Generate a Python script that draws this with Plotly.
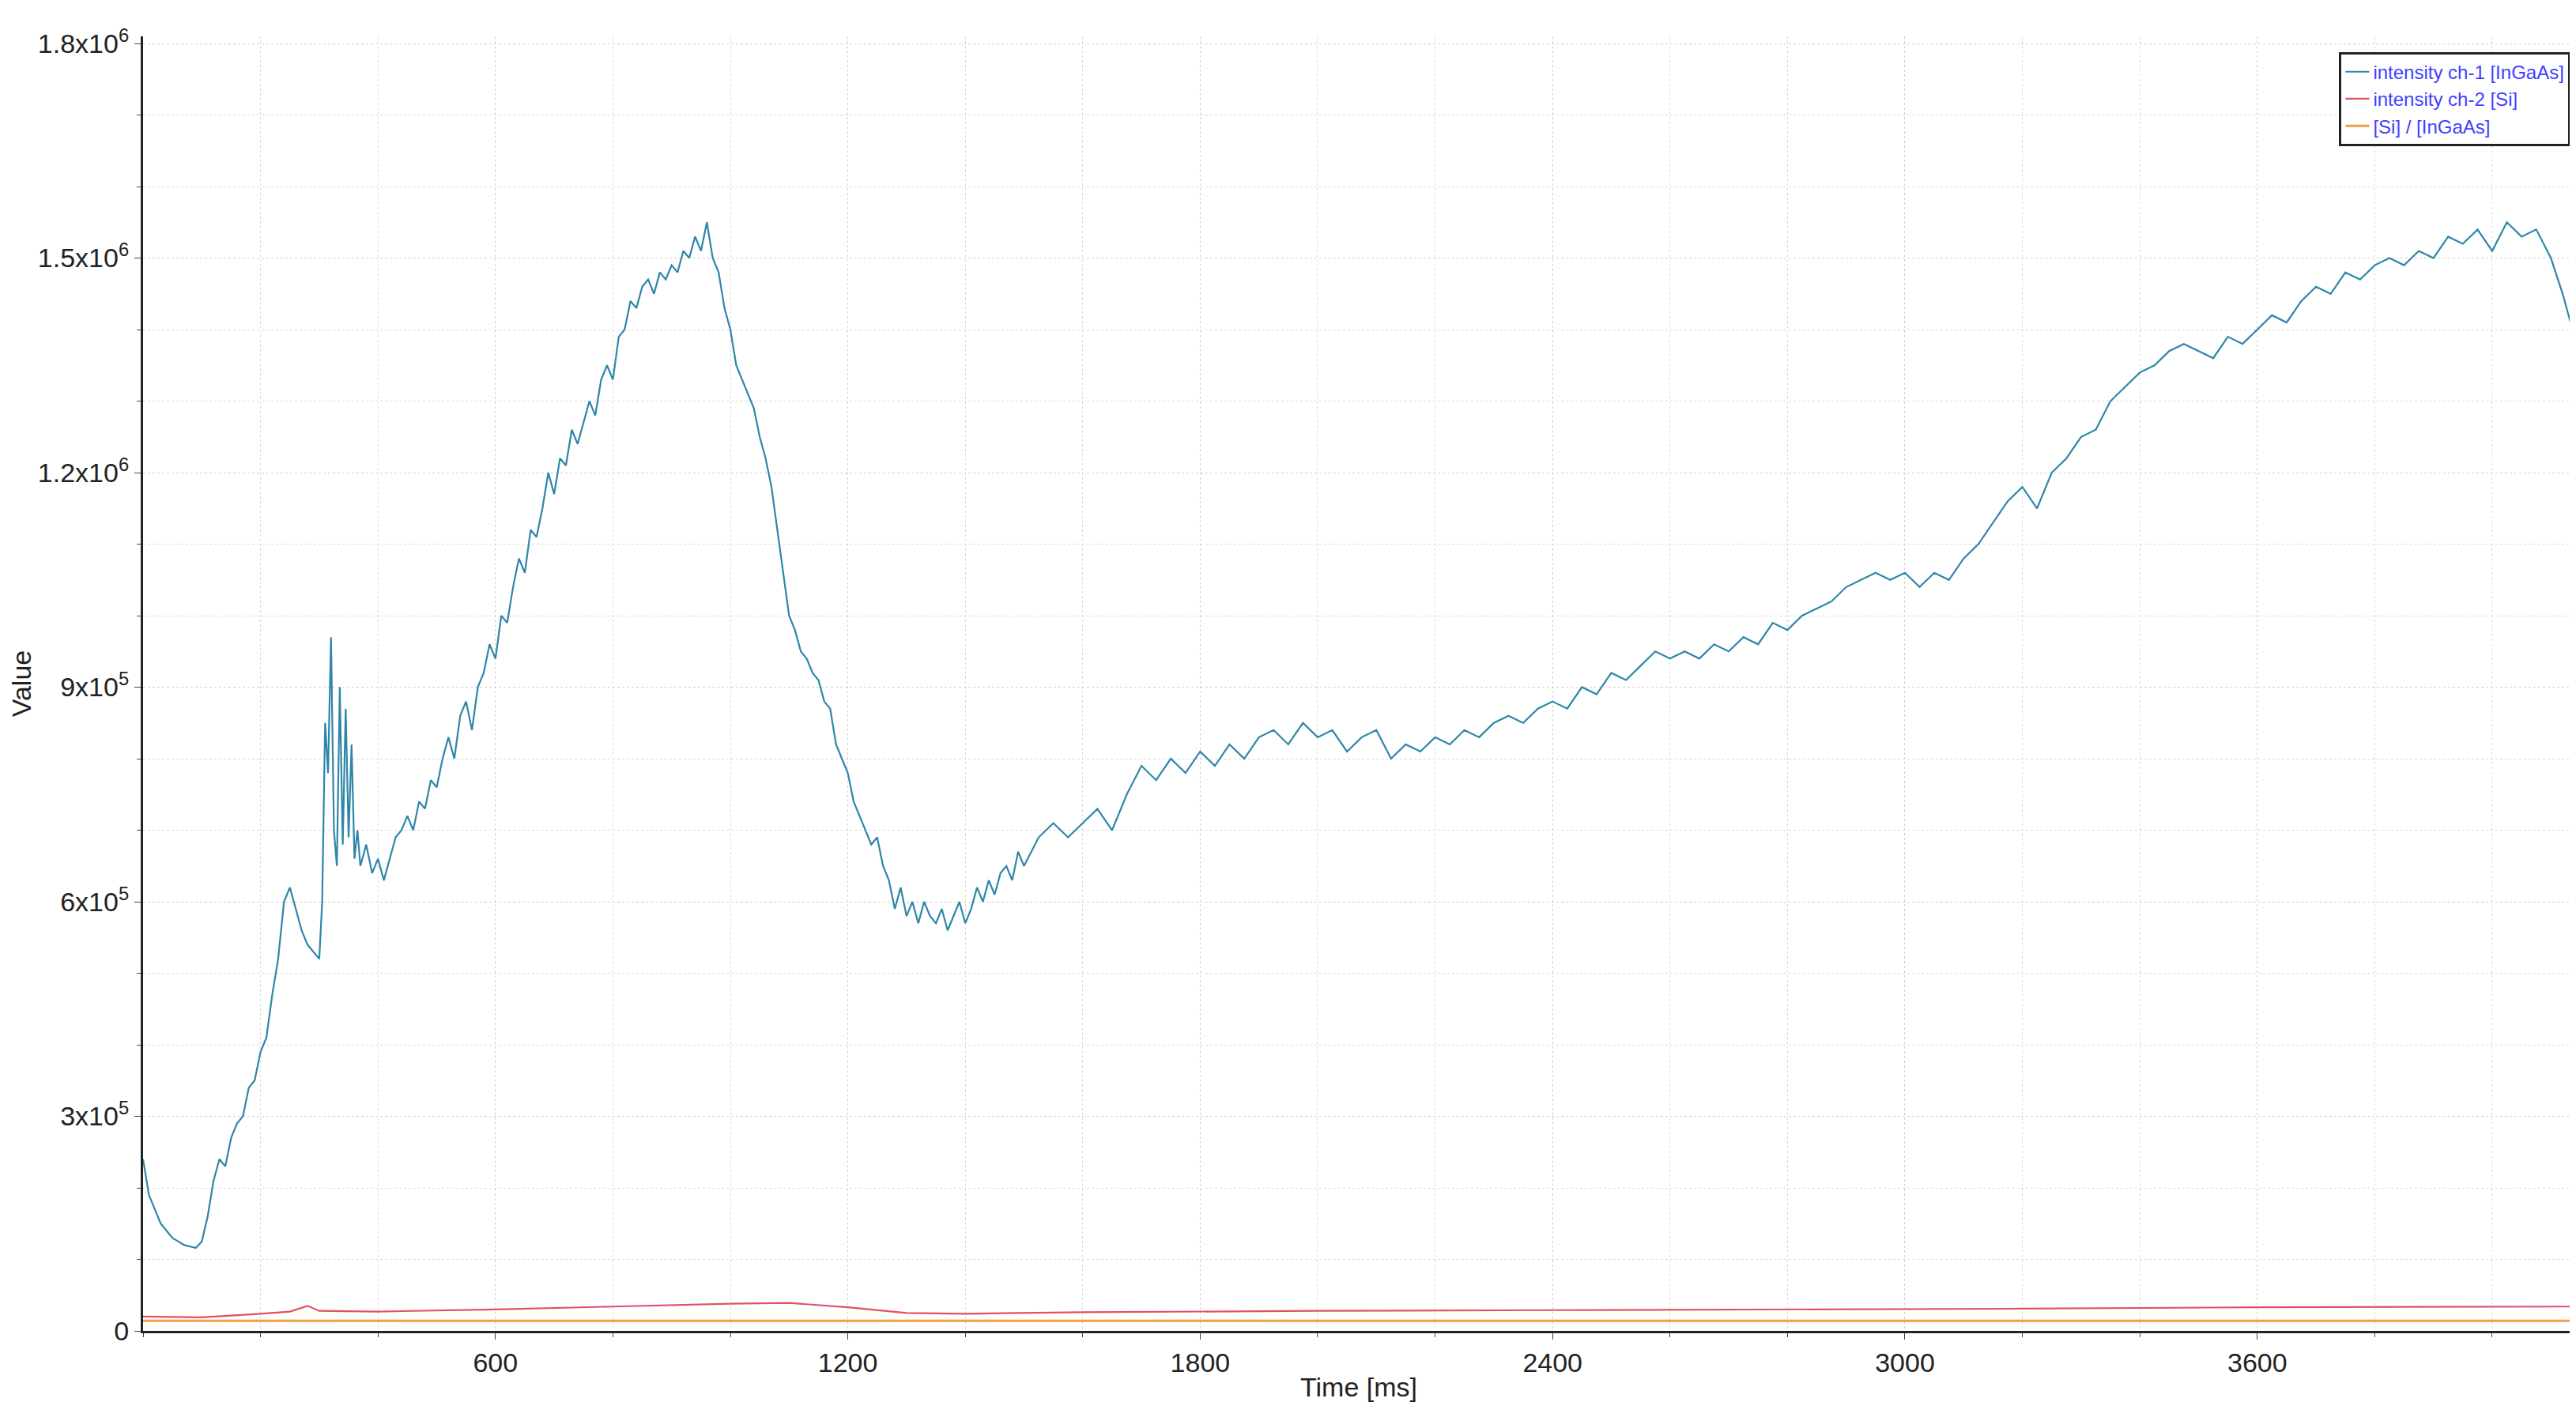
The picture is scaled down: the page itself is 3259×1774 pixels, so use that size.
import plotly.graph_objects as go

# (time ms, intensity) readings for ch-1 up to 1500 ms
early_ch1 = [
 (0,240000),(10,190000),(20,170000),(30,150000),(40,140000),(50,130000),(60,125000),(70,120000),(80,118000),(90,116000),
 (100,125000),(110,160000),(120,210000),(130,240000),(140,230000),(150,270000),(160,290000),(170,300000),(180,340000),(190,350000),
 (200,390000),(210,410000),(220,470000),(230,520000),(240,600000),(250,620000),(260,590000),(270,560000),(280,540000),(290,530000),
 (300,520000),(305,600000),(310,850000),(315,780000),(320,970000),(325,700000),(330,650000),(335,900000),(340,680000),(345,870000),
 (350,690000),(355,820000),(360,660000),(365,700000),(370,650000),(380,680000),(390,640000),(400,660000),(410,630000),(420,660000),
 (430,690000),(440,700000),(450,720000),(460,700000),(470,740000),(480,730000),(490,770000),(500,760000),(510,800000),(520,830000),
 (530,800000),(540,860000),(550,880000),(560,840000),(570,900000),(580,920000),(590,960000),(600,940000),(610,1000000),(620,990000),
 (630,1040000),(640,1080000),(650,1060000),(660,1120000),(670,1110000),(680,1150000),(690,1200000),(700,1170000),(710,1220000),(720,1210000),
 (730,1260000),(740,1240000),(750,1270000),(760,1300000),(770,1280000),(780,1330000),(790,1350000),(800,1330000),(810,1390000),(820,1400000),
 (830,1440000),(840,1430000),(850,1460000),(860,1470000),(870,1450000),(880,1480000),(890,1470000),(900,1490000),(910,1480000),(920,1510000),
 (930,1500000),(940,1530000),(950,1510000),(960,1550000),(970,1500000),(980,1480000),(990,1430000),(1000,1400000),(1010,1350000),(1020,1330000),
 (1030,1310000),(1040,1290000),(1050,1250000),(1060,1220000),(1070,1180000),(1080,1120000),(1090,1060000),(1100,1000000),(1110,980000),(1120,950000),
 (1130,940000),(1140,920000),(1150,910000),(1160,880000),(1170,870000),(1180,820000),(1190,800000),(1200,780000),(1210,740000),(1220,720000),
 (1230,700000),(1240,680000),(1250,690000),(1260,650000),(1270,630000),(1280,590000),(1290,620000),(1300,580000),(1310,600000),(1320,570000),
 (1330,600000),(1340,580000),(1350,570000),(1360,590000),(1370,560000),(1380,580000),(1390,600000),(1400,570000),(1410,590000),(1420,620000),
 (1430,600000),(1440,630000),(1450,610000),(1460,640000),(1470,650000),(1480,630000),(1490,670000),(1500,650000),
]
# ch-1 readings every 25 ms from 1525 to 4100 ms, then the last two samples
late_times = list(range(1525, 4101, 25)) + [4120, 4140]
late_values = [
 690000,710000,690000,710000, 730000,700000,750000,790000, 770000,800000,780000,810000,
 790000,820000,800000,830000, 840000,820000,850000,830000, 840000,810000,830000,840000,
 800000,820000,810000,830000, 820000,840000,830000,850000, 860000,850000,870000,880000,
 870000,900000,890000,920000, 910000,930000,950000,940000, 950000,940000,960000,950000,
 970000,960000,990000,980000, 1000000,1010000,1020000,1040000, 1050000,1060000,1050000,1060000,
 1040000,1060000,1050000,1080000, 1100000,1130000,1160000,1180000, 1150000,1200000,1220000,1250000,
 1260000,1300000,1320000,1340000, 1350000,1370000,1380000,1370000, 1360000,1390000,1380000,1400000,
 1420000,1410000,1440000,1460000, 1450000,1480000,1470000,1490000, 1500000,1490000,1510000,1500000,
 1530000,1520000,1540000,1510000, 1550000,1530000,1540000,1500000, 1450000,1390000,
]
time_ch1 = [t for t, _ in early_ch1] + late_times
intensity_ch1 = [v for _, v in early_ch1] + late_values

time_ch2 = [0,100,200,250,280,300,400,600,800,1000,1100,1200,1300,1400,1600,2000,2400,2800,3200,3600,4000,4140]
intensity_ch2 = [20000,19000,24000,27000,35000,28000,27000,30000,34000,38000,39000,33000,25000,24000,26000,28000,29000,30000,31000,33000,34000,34000]

time_ratio = [0,4140]
ratio = [14000,14000]

fig = go.Figure()
fig.add_trace(go.Scatter(x=time_ch1, y=intensity_ch1, mode="lines", name="intensity ch-1 [InGaAs]",
                         line=dict(color="#2e86a8", width=2.2)))
fig.add_trace(go.Scatter(x=time_ch2, y=intensity_ch2, mode="lines", name="intensity ch-2 [Si]",
                         line=dict(color="#e0506a", width=2.2)))
fig.add_trace(go.Scatter(x=time_ratio, y=ratio, mode="lines", name="[Si] / [InGaAs]",
                         line=dict(color="#f0a040", width=3)))

yt = [0, 300000, 600000, 900000, 1200000, 1500000, 1800000]
ytxt = ["0", "3x10<sup>5</sup>", "6x10<sup>5</sup>", "9x10<sup>5</sup>",
        "1.2x10<sup>6</sup>", "1.5x10<sup>6</sup>", "1.8x10<sup>6</sup>"]

fig.update_layout(
    width=3259, height=1774, plot_bgcolor="white", paper_bgcolor="white",
    margin=dict(l=167, r=10, t=38, b=98),
    font=dict(family="Liberation Sans, Arial, sans-serif", size=34, color="#222"),
    showlegend=True,
    legend=dict(x=0.9985, y=0.988, xanchor="right", yanchor="top", bordercolor="#222", borderwidth=3,
                bgcolor="white", font=dict(size=24, color="#4040ff"), tracegroupgap=0),
)
fig.update_xaxes(range=[0, 4140], tickvals=[600, 1200, 1800, 2400, 3000, 3600],
                 showline=True, linecolor="#222", linewidth=3, ticks="outside", ticklen=8,
                 showgrid=True, gridcolor="#d0d0d0", griddash="dot", zeroline=False,
                 minor=dict(dtick=200, showgrid=True, gridcolor="#d8d8d8", griddash="dot", ticks="outside", ticklen=5),
                 title=dict(text="Time [ms]", standoff=2, font=dict(size=34)))
fig.update_yaxes(range=[0, 1810000], tickvals=yt, ticktext=ytxt,
                 showline=True, linecolor="#222", linewidth=3, ticks="outside", ticklen=8,
                 showgrid=True, gridcolor="#d0d0d0", griddash="dot", zeroline=False,
                 minor=dict(dtick=100000, showgrid=True, gridcolor="#d8d8d8", griddash="dot", ticks="outside", ticklen=5),
                 title=dict(text="Value", standoff=6, font=dict(size=34)))

fig.write_html("out.html")
